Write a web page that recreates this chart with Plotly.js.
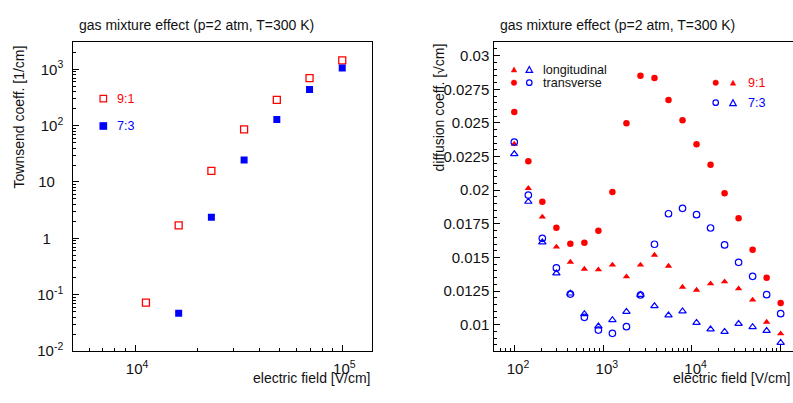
<!DOCTYPE html>
<html>
<head>
<meta charset="utf-8">
<script src="https://cdn.plot.ly/plotly-3.0.1.min.js"></script>
<style>html,body{margin:0;padding:0;background:#fff;}#chart{width:793px;height:403px;}</style>
</head>
<body>
<div id="chart"></div>
<script>
// ---------- data ----------
// left panel: Townsend coefficient [1/cm] vs electric field [V/cm]
const fieldTownsend91 = [11288, 16238, 23357, 33598, 48329, 69519, 100000];
const townsend91      = [0.072, 1.7, 15.7, 86, 286, 700, 1445];
const fieldTownsend73 = [16238, 23357, 33598, 48329, 69519, 100000];
const townsend73      = [0.047, 2.36, 24.5, 129, 436, 1050];

// right panel: diffusion coefficient [sqrt(cm)] vs electric field [V/cm]
const fieldDiff = [100, 144, 207, 298, 428, 616, 886, 1274, 1833, 2637, 3793, 5456, 7848, 11288, 16238, 23357, 33598, 48329, 69519, 100000];
const trans91 = [0.02581, 0.02215, 0.01915, 0.01721, 0.01602, 0.0161, 0.01699, 0.01987, 0.02497, 0.02851, 0.02834, 0.02671, 0.0252, 0.02341, 0.0219, 0.01977, 0.01791, 0.01558, 0.01349, 0.01161];
const long91  = [0.02343, 0.02014, 0.01801, 0.01578, 0.01466, 0.01414, 0.01409, 0.01444, 0.01357, 0.01444, 0.01518, 0.01436, 0.0128, 0.01258, 0.01305, 0.0132, 0.01268, 0.01184, 0.0102, 0.00933];
const trans73 = [0.02358, 0.01964, 0.01642, 0.01422, 0.01228, 0.01055, 0.0096, 0.00936, 0.00985, 0.01221, 0.01598, 0.01825, 0.01865, 0.01818, 0.01719, 0.01593, 0.01464, 0.0136, 0.01223, 0.01082];
const long73  = [0.02269, 0.01915, 0.01613, 0.01382, 0.01233, 0.0108, 0.00988, 0.01035, 0.01097, 0.01223, 0.01139, 0.0107, 0.011, 0.01015, 0.00966, 0.00948, 0.01007, 0.00983, 0.00955, 0.00866];

// tick labels
const leftXTickVals  = [1e4, 1e5];
const leftXTickText  = ['\u00A010<sup>4</sup>', '\u00A010<sup>5</sup>'];
const leftYTickVals  = [0.01, 0.1, 1, 10, 100, 1000];
const leftYTickText  = ['10<sup>-2</sup>', '10<sup>-1</sup>', '1\u00A0\u00A0\u00A0', '10\u00A0\u00A0', '10<sup>2</sup>', '10<sup>3</sup>'];
const rightXTickVals = [1e2, 1e3, 1e4, 1e5];
const rightXTickText = ['\u200210<sup>2</sup>', '\u200210<sup>3</sup>', '\u200210<sup>4</sup>', '\u200210<sup>5</sup>'];
const rightYTickVals = [0.01, 0.0125, 0.015, 0.0175, 0.02, 0.0225, 0.025, 0.0275, 0.03];
const rightYTickText = ['0.01', '0.0125', '0.015', '0.0175', '0.02', '0.0225', '0.025', '0.0275', '0.03'];

const titleText = 'gas mixture effect (p=2 atm, T=300 K)';
const xTitle = 'electric field [V/cm]';
const yTitleLeft = 'Townsend coeff. [1/cm]';
const yTitleRight = 'diffusion coeff. [\u221Acm]';
const ratioLabels = ['9:1', '7:3'];
const kindLabels = ['longitudinal', 'transverse'];

// ---------- styling helpers ----------
const W = 793, H = 403;
const RED = '#ff0000', BLUE = '#0000ff', INK = '#000000';
const FONT = 'Liberation Sans, Arial, Helvetica, sans-serif';
const px = x => x / W;
const py = y => 1 - y / H;

function logMinor(lo, hi) {
  const v = [];
  for (let e = lo; e <= hi; e++) for (let m = 2; m <= 9; m++) v.push(m * Math.pow(10, e));
  return v;
}

function axisBase() {
  return {
    showline: true, linecolor: INK, linewidth: 1, mirror: true,
    ticks: 'inside', ticklen: 6, tickwidth: 1, tickcolor: INK,
    showgrid: false, zeroline: false,
    tickfont: {family: FONT, size: 15, color: '#111'},
  };
}

const traces = [
  {x: fieldTownsend91, y: townsend91, xaxis: 'x', yaxis: 'y', mode: 'markers', name: ratioLabels[0],
   marker: {symbol: 'square-open', size: 7, color: RED, line: {color: RED, width: 1.3}}},
  {x: fieldTownsend73, y: townsend73, xaxis: 'x', yaxis: 'y', mode: 'markers', name: ratioLabels[1],
   marker: {symbol: 'square', size: 7, color: BLUE, line: {width: 0}}},
  {x: fieldDiff, y: trans91, xaxis: 'x2', yaxis: 'y2', mode: 'markers', name: '9:1 transverse',
   marker: {symbol: 'circle', size: 6.5, color: RED, line: {width: 0}}},
  {x: fieldDiff, y: long91, xaxis: 'x2', yaxis: 'y2', mode: 'markers', name: '9:1 longitudinal',
   marker: {symbol: 'triangle-up', size: 6.5, color: RED, line: {width: 0}}},
  {x: fieldDiff, y: long73, xaxis: 'x2', yaxis: 'y2', mode: 'markers', name: '7:3 longitudinal',
   marker: {symbol: 'triangle-up-open', size: 6.5, color: BLUE, line: {color: BLUE, width: 1.2}}},
  {x: fieldDiff, y: trans73, xaxis: 'x2', yaxis: 'y2', mode: 'markers', name: '7:3 transverse',
   marker: {symbol: 'circle-open', size: 6.5, color: BLUE, line: {color: BLUE, width: 1.2}}},
];

// legend keys drawn as small shapes in pixel-derived paper coordinates
function sq(cx, cy, s, color, filled) {
  return {type: 'rect', xref: 'paper', yref: 'paper', x0: px(cx - s / 2), x1: px(cx + s / 2),
          y0: py(cy + s / 2), y1: py(cy - s / 2), line: {color: color, width: 1.2},
          fillcolor: filled ? color : 'rgba(0,0,0,0)'};
}
function circ(cx, cy, s, color, filled) {
  return {type: 'circle', xref: 'paper', yref: 'paper', x0: px(cx - s / 2), x1: px(cx + s / 2),
          y0: py(cy + s / 2), y1: py(cy - s / 2), line: {color: color, width: filled ? 0.5 : 1.2},
          fillcolor: filled ? color : 'rgba(0,0,0,0)'};
}
function tri(cx, cy, s, color, filled) {
  const h = s * 0.45;
  return {type: 'path', xref: 'paper', yref: 'paper',
          path: `M ${px(cx - s / 2)},${py(cy + h)} L ${px(cx + s / 2)},${py(cy + h)} L ${px(cx)},${py(cy - h)} Z`,
          line: {color: color, width: filled ? 0.5 : 1.2}, fillcolor: filled ? color : 'rgba(0,0,0,0)'};
}

const shapes = [
  sq(103.3, 98.7, 6.5, RED, false),
  sq(103.3, 126, 6.5, BLUE, true),
  tri(514, 69.5, 5.5, RED, true),
  tri(529.3, 69.5, 6.5, BLUE, false),
  circ(514, 82.7, 5.5, RED, true),
  circ(529.3, 82.7, 5.5, BLUE, false),
  circ(715.7, 82.7, 5.5, RED, true),
  tri(733, 82.7, 5.5, RED, true),
  circ(715.7, 102.7, 5.5, BLUE, false),
  tri(733, 102.7, 6.5, BLUE, false),
];

function ann(text, x, y, opts) {
  return Object.assign({text: text, x: px(x), y: py(y), xref: 'paper', yref: 'paper', showarrow: false,
    xanchor: 'center', yanchor: 'middle', font: {family: FONT, size: 14, color: '#111'}}, opts || {});
}

const annotations = [
  ann(titleText, 196.7, 24.7),
  ann(titleText, 617.5, 24.7),
  ann(yTitleLeft, 18, 117.5, {textangle: -90}),
  ann(yTitleRight, 438, 107.5, {textangle: -90}),
  ann(xTitle, 372, 378, {xanchor: 'right'}),
  ann(xTitle, 792, 378, {xanchor: 'right'}),
  ann(ratioLabels[0], 115, 99, {xanchor: 'left', font: {family: FONT, size: 12.6, color: RED}}),
  ann(ratioLabels[1], 115, 126, {xanchor: 'left', font: {family: FONT, size: 12.6, color: BLUE}}),
  ann(kindLabels[0], 541, 70, {xanchor: 'left', font: {family: FONT, size: 12.6, color: '#111'}}),
  ann(kindLabels[1], 541, 83, {xanchor: 'left', font: {family: FONT, size: 12.6, color: '#111'}}),
  ann(ratioLabels[0], 746, 83, {xanchor: 'left', font: {family: FONT, size: 12.6, color: RED}}),
  ann(ratioLabels[1], 746, 103, {xanchor: 'left', font: {family: FONT, size: 12.6, color: BLUE}}),
];

const layout = {
  width: W, height: H,
  margin: {l: 0, r: 0, t: 0, b: 0},
  paper_bgcolor: '#ffffff', plot_bgcolor: '#ffffff',
  showlegend: false,
  font: {family: FONT, size: 15, color: '#111'},
  xaxis: Object.assign(axisBase(), {
    type: 'log', anchor: 'y', domain: [px(73.3), px(372.3)], range: [3.702, 5.145],
    tickmode: 'array', tickvals: leftXTickVals, ticktext: leftXTickText, ticklabelstandoff: 4,
    minor: {tickmode: 'array', tickvals: logMinor(3, 4), ticks: 'inside', ticklen: 3, tickwidth: 1, tickcolor: INK, showgrid: false},
  }),
  yaxis: Object.assign(axisBase(), {
    type: 'log', anchor: 'x', domain: [py(351), py(41.7)], range: [-2, 3.49],
    tickmode: 'array', tickvals: leftYTickVals, ticktext: leftYTickText, ticklabelstandoff: 6,
    minor: {tickmode: 'array', tickvals: logMinor(-2, 3), ticks: 'inside', ticklen: 3, tickwidth: 1, tickcolor: INK, showgrid: false},
  }),
  xaxis2: Object.assign(axisBase(), {
    type: 'log', anchor: 'y2', domain: [px(494.3), 1], range: [1.775, 5.139],
    tickmode: 'array', tickvals: rightXTickVals, ticktext: rightXTickText, ticklabelstandoff: 4,
    minor: {tickmode: 'array', tickvals: logMinor(1, 4), ticks: 'inside', ticklen: 3, tickwidth: 1, tickcolor: INK, showgrid: false},
  }),
  yaxis2: Object.assign(axisBase(), {
    type: 'linear', anchor: 'x2', domain: [py(351), py(41.7)], range: [0.008045, 0.031041],
    mirror: false,
    tickmode: 'array', tickvals: rightYTickVals, ticktext: rightYTickText, ticklabelstandoff: 1,
    minor: {tickmode: 'linear', tick0: 0, dtick: 0.0005, ticks: 'inside', ticklen: 3, tickwidth: 1, tickcolor: INK, showgrid: false},
  }),
  shapes: shapes,
  annotations: annotations,
};

Plotly.newPlot('chart', traces, layout, {staticPlot: true, displayModeBar: false});
</script>
</body>
</html>
